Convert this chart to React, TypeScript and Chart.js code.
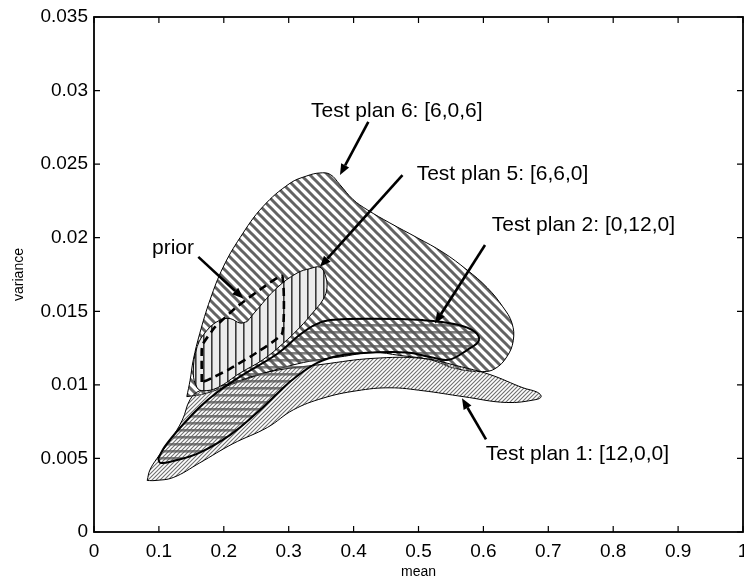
import React, { useEffect, useRef } from 'react';
import { Chart, registerables } from 'chart.js';

Chart.register(...registerables);

// ---- data (mean, variance) ----
const xTickLabels = ['0', '0.1', '0.2', '0.3', '0.4', '0.5', '0.6', '0.7', '0.8', '0.9', '1'];
const yTickLabels = ['0', '0.005', '0.01', '0.015', '0.02', '0.025', '0.03', '0.035'];

const plan6: [number, number][] = [
  [0.143, 0.0092], [0.148, 0.0103], [0.153, 0.0117], [0.163, 0.0135], [0.179, 0.0158], [0.199, 0.0180],
  [0.225, 0.0200], [0.260, 0.0221], [0.302, 0.0237], [0.328, 0.0242], [0.348, 0.0244], [0.364, 0.0243],
  [0.379, 0.0236], [0.399, 0.0226], [0.421, 0.0219], [0.456, 0.0210], [0.498, 0.0200], [0.538, 0.0190],
  [0.575, 0.0178], [0.606, 0.0166], [0.630, 0.0153], [0.644, 0.0142], [0.646, 0.0130], [0.636, 0.0119],
  [0.618, 0.0111], [0.599, 0.0109], [0.558, 0.0111], [0.518, 0.0117], [0.471, 0.0120], [0.430, 0.0122],
  [0.379, 0.0119], [0.344, 0.0117], [0.302, 0.0113], [0.256, 0.0107], [0.210, 0.0100], [0.171, 0.0094],
  [0.143, 0.0092],
];

const plan1: [number, number][] = [
  [0.082, 0.0035], [0.086, 0.0042], [0.097, 0.0050], [0.117, 0.0062], [0.136, 0.0076], [0.148, 0.0090],
  [0.163, 0.0096], [0.210, 0.0101], [0.271, 0.0109], [0.353, 0.0114], [0.430, 0.0118], [0.507, 0.0118],
  [0.559, 0.0113], [0.610, 0.0107], [0.661, 0.0098], [0.683, 0.0095], [0.689, 0.0092], [0.681, 0.0090],
  [0.636, 0.0088], [0.569, 0.0092], [0.507, 0.0096], [0.456, 0.0098], [0.405, 0.0096], [0.353, 0.0091],
  [0.307, 0.0083], [0.267, 0.0071], [0.214, 0.0060], [0.163, 0.0047], [0.122, 0.0037], [0.094, 0.0035],
  [0.082, 0.0035],
];

const plan2: [number, number][] = [
  [0.099, 0.0050], [0.109, 0.0058], [0.133, 0.0071], [0.163, 0.0085], [0.190, 0.0095], [0.230, 0.0107],
  [0.282, 0.0121], [0.317, 0.0134], [0.341, 0.0141], [0.364, 0.0144], [0.430, 0.0145], [0.507, 0.0144],
  [0.559, 0.0141], [0.587, 0.0136], [0.593, 0.0130], [0.576, 0.0124], [0.546, 0.0117], [0.518, 0.0119],
  [0.482, 0.0122], [0.430, 0.0122], [0.379, 0.0120], [0.344, 0.0115], [0.310, 0.0105], [0.287, 0.0096],
  [0.251, 0.0081], [0.210, 0.0066], [0.163, 0.0054], [0.120, 0.0048], [0.102, 0.0047], [0.099, 0.0050],
];

const plan5: [number, number][] = [
  [0.236, 0.0143], [0.251, 0.0151], [0.282, 0.0166], [0.313, 0.0176], [0.333, 0.0179], [0.348, 0.0180],
  [0.356, 0.0175], [0.359, 0.0166], [0.353, 0.0158], [0.337, 0.0149], [0.317, 0.0139], [0.291, 0.0128],
  [0.260, 0.0117], [0.225, 0.0108], [0.190, 0.0098], [0.168, 0.0096], [0.159, 0.0098], [0.153, 0.0108],
  [0.159, 0.0126], [0.174, 0.0137], [0.194, 0.0144], [0.210, 0.0145], [0.225, 0.0142], [0.236, 0.0143],
];

const prior: [number, number][] = [
  [0.166, 0.0102], [0.166, 0.0124], [0.168, 0.0128], [0.186, 0.0139], [0.220, 0.0153], [0.260, 0.0166],
  [0.290, 0.0174], [0.290, 0.0135], [0.251, 0.0122], [0.210, 0.0111], [0.174, 0.0103], [0.166, 0.0102],
];

// ---- annotations ----
const noteText = ['Test plan 6: [6,0,6]', 'Test plan 5: [6,6,0]', 'Test plan 2: [0,12,0]', 'Test plan 1: [12,0,0]', 'prior'];
const noteX = [0.3344, 0.4972, 0.6128, 0.6036, 0.0894];
const noteY = [0.02863, 0.02434, 0.02083, 0.00526, 0.01929];
const arrowFromX = [0.4227, 0.4753, 0.6025, 0.6040, 0.1607];
const arrowFromY = [0.02788, 0.02426, 0.01950, 0.00630, 0.01870];
const arrowToX = [0.3790, 0.3482, 0.5254, 0.5670, 0.2300];
const arrowToY = [0.02426, 0.01802, 0.01417, 0.00909, 0.01587];

const FONT = "'Liberation Sans', Arial, Helvetica, sans-serif";

function makePattern(kind: string): CanvasPattern | string {
  const c = document.createElement('canvas');
  const ctx = c.getContext('2d');
  if (!ctx) return 'rgba(0,0,0,0.3)';
  if (kind === 'diagDown') {
    const P = 9;
    c.width = P; c.height = P;
    ctx.strokeStyle = '#636363';
    ctx.lineWidth = 3;
    for (let k = -2; k <= 2; k++) {
      ctx.beginPath();
      ctx.moveTo(k * P - P, -P);
      ctx.lineTo(k * P + 2 * P, 2 * P);
      ctx.stroke();
    }
  } else if (kind === 'diagUpFine') {
    const P = 4;
    c.width = P; c.height = P;
    ctx.strokeStyle = '#6e6e6e';
    ctx.lineWidth = 1.1;
    for (let k = -2; k <= 3; k++) {
      ctx.beginPath();
      ctx.moveTo(k * P + P, -P);
      ctx.lineTo(k * P - 2 * P, 2 * P);
      ctx.stroke();
    }
  } else if (kind === 'horiz') {
    c.width = 8; c.height = 7;
    ctx.fillStyle = 'rgba(85,85,85,0.75)';
    ctx.fillRect(0, 2, 8, 2.6);
  } else {
    c.width = 8; c.height = 8;
    ctx.fillStyle = '#ececec';
    ctx.fillRect(0, 0, 8, 8);
    ctx.fillStyle = '#3a3a3a';
    ctx.fillRect(3, 0, 1.6, 8);
  }
  const p = ctx.createPattern(c, 'repeat');
  return p || 'rgba(0,0,0,0.3)';
}

const framePlugin = {
  id: 'framePlugin',
  afterDraw(chart: any) {
    const { ctx, chartArea } = chart;
    const xs = chart.scales.x;
    const ys = chart.scales.y;
    const { left, right, top, bottom } = chartArea;
    ctx.save();
    // annotations
    ctx.fillStyle = '#000';
    ctx.strokeStyle = '#000';
    ctx.font = `21px ${FONT}`;
    ctx.textAlign = 'left';
    ctx.textBaseline = 'middle';
    for (let i = 0; i < noteText.length; i++) {
      ctx.fillText(noteText[i], xs.getPixelForValue(noteX[i]), ys.getPixelForValue(noteY[i]));
      const x1 = xs.getPixelForValue(arrowFromX[i]);
      const y1 = ys.getPixelForValue(arrowFromY[i]);
      const x2 = xs.getPixelForValue(arrowToX[i]);
      const y2 = ys.getPixelForValue(arrowToY[i]);
      const ang = Math.atan2(y2 - y1, x2 - x1);
      const hl = 11;
      const hw = 4.5;
      const bx = x2 - hl * Math.cos(ang);
      const by = y2 - hl * Math.sin(ang);
      ctx.lineWidth = 2.6;
      ctx.beginPath();
      ctx.moveTo(x1, y1);
      ctx.lineTo(bx, by);
      ctx.stroke();
      ctx.beginPath();
      ctx.moveTo(x2, y2);
      ctx.lineTo(bx + hw * Math.sin(ang), by - hw * Math.cos(ang));
      ctx.lineTo(bx - hw * Math.sin(ang), by + hw * Math.cos(ang));
      ctx.closePath();
      ctx.fill();
    }
    // inward tick marks on all four sides
    ctx.lineWidth = 1.2;
    ctx.beginPath();
    for (const t of xs.ticks) {
      const px = xs.getPixelForValue(t.value);
      ctx.moveTo(px, bottom); ctx.lineTo(px, bottom - 6);
      ctx.moveTo(px, top); ctx.lineTo(px, top + 6);
    }
    for (const t of ys.ticks) {
      const py = ys.getPixelForValue(t.value);
      ctx.moveTo(left, py); ctx.lineTo(left + 6, py);
      ctx.moveTo(right, py); ctx.lineTo(right - 6, py);
    }
    ctx.stroke();
    // frame
    ctx.lineWidth = 1.8;
    ctx.strokeRect(left, top, right - left, bottom - top);
    ctx.restore();
  },
};

export default function App() {
  const ref = useRef<HTMLCanvasElement | null>(null);

  useEffect(() => {
    if (!ref.current) return;
    Chart.defaults.font.family = FONT;
    Chart.defaults.color = '#000';

    const toPts = (arr: [number, number][]) => arr.map(([x, y]) => ({ x, y }));
    const base = {
      borderColor: '#000',
      pointRadius: 0,
      pointHoverRadius: 0,
      fill: 'shape',
      tension: 0.4,
    };

    const chart = new Chart(ref.current, {
      type: 'line',
      data: {
        datasets: [
          { ...base, label: 'prior', data: toPts(prior), order: 0, fill: false, tension: 0.15, borderWidth: 2.6, borderDash: [8, 5], backgroundColor: 'rgba(0,0,0,0)' },
          { ...base, label: 'Test plan 5', data: toPts(plan5), order: 1, borderWidth: 1, backgroundColor: makePattern('vert') },
          { ...base, label: 'Test plan 2', data: toPts(plan2), order: 2, borderWidth: 2, backgroundColor: makePattern('horiz') },
          { ...base, label: 'Test plan 1', data: toPts(plan1), order: 3, borderWidth: 1, backgroundColor: makePattern('diagUpFine') },
          { ...base, label: 'Test plan 6', data: toPts(plan6), order: 4, borderWidth: 1, backgroundColor: makePattern('diagDown') },
        ] as any,
      },
      options: {
        animation: false,
        responsive: false,
        devicePixelRatio: 1,
        events: [],
        layout: { padding: { left: 0, top: 17, right: 1, bottom: 0 } },
        plugins: { legend: { display: false }, tooltip: { enabled: false } },
        scales: {
          x: {
            type: 'linear',
            min: 0,
            max: 1,
            grid: { display: false, drawTicks: false },
            border: { display: false },
            ticks: {
              stepSize: 0.1,
              padding: 8,
              autoSkip: false,
              maxRotation: 0,
              color: '#000',
              font: { size: 19 },
              callback: (_v: any, i: number) => xTickLabels[i],
            },
            title: { display: true, text: 'mean', color: '#000', font: { size: 14 }, padding: { top: 0, bottom: 1 } },
            afterFit: (s: any) => { s.height = 50; s.paddingLeft = 0; s.paddingRight = 0; },
          },
          y: {
            type: 'linear',
            min: 0,
            max: 0.035,
            grid: { display: false, drawTicks: false },
            border: { display: false },
            ticks: {
              stepSize: 0.005,
              padding: 6,
              autoSkip: false,
              color: '#000',
              font: { size: 19 },
              callback: (_v: any, i: number) => yTickLabels[i],
            },
            title: { display: true, text: 'variance', color: '#000', font: { size: 14 }, padding: { top: 10.5, bottom: 0 } },
            afterFit: (s: any) => { s.width = 94; s.paddingTop = 0; s.paddingBottom = 0; },
          },
        },
      } as any,
      plugins: [framePlugin],
    });
    return () => chart.destroy();
  }, []);

  return (
    <div style={{ position: 'absolute', left: 0, top: 0, width: 744, height: 582, background: '#fff' }}>
      <canvas ref={ref} width={744} height={582} style={{ display: 'block', width: 744, height: 582 }} />
    </div>
  );
}
